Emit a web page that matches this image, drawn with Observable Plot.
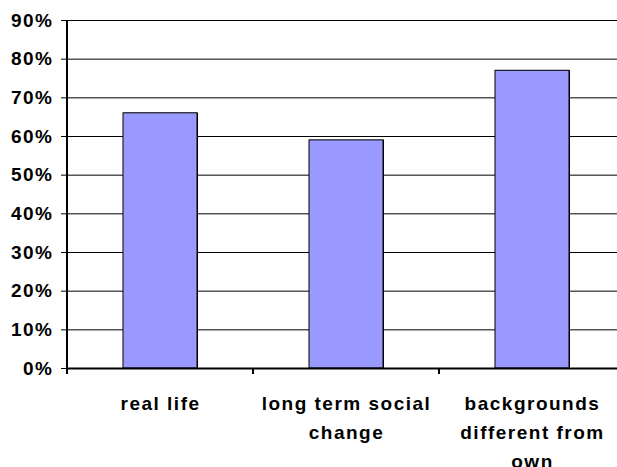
<!DOCTYPE html>
<html>
<head>
<meta charset="utf-8">
<script src="https://cdn.jsdelivr.net/npm/d3@7"></script>
<script src="https://cdn.jsdelivr.net/npm/@observablehq/plot@0.6"></script>
<style>
  html, body { margin: 0; padding: 0; background: #ffffff; }
</style>
</head>
<body>
<div id="chart"></div>
<script>
// Survey categories, their wrapped axis labels and the share (%) for each
const categories = ["real life", "long term social change", "backgrounds different from own"];
const tickLabels = ["real life", "long term social\nchange", "backgrounds\ndifferent from\nown"];
const shares = [66, 59, 77];
const yTicks = [0, 10, 20, 30, 40, 50, 60, 70, 80, 90];

const data = categories.map((category, i) => ({category, share: shares[i]}));

const chart = Plot.plot({
  width: 617,
  height: 467,
  marginTop: 20,
  marginBottom: 99,
  marginLeft: 67,
  marginRight: 0,
  style: {
    background: "#ffffff",
    color: "#000000",
    fontFamily: "'Liberation Sans', Arial, sans-serif",
    fontSize: "19px",
    fontWeight: "bold",
    letterSpacing: "1.5px",
    overflow: "hidden"
  },
  x: {domain: categories, range: [67, 625], paddingInner: 0.6, paddingOuter: 0.3, axis: null},
  y: {domain: [0, 90], axis: null},
  marks: [
    // horizontal gridlines
    Plot.ruleY(yTicks.slice(1), {stroke: "#000000", strokeWidth: 1}),
    // bar shadow on the right edge
    Plot.barY(data, {x: "category", y: "share", fill: "#000000", dx: 1}),
    Plot.barY(data, {x: "category", y: "share", fill: "#9999FF", stroke: "#000000", strokeWidth: 1}),
    // category axis baseline
    Plot.ruleY([0], {stroke: "#000000", strokeWidth: 2}),
    Plot.axisY({
      ticks: yTicks,
      tickSize: 6,
      tickPadding: 8,
      stroke: "#000000",
      label: null,
      tickFormat: d => `${d}%`
    }),
    Plot.axisX({
      tickSize: 0,
      tickPadding: 21,
      lineHeight: 1.53,
      label: null,
      tickFormat: d => tickLabels[categories.indexOf(d)]
    })
  ]
});

// value axis line and tick marks between the category bands
const xs = chart.scale("x");
const ys = chart.scale("y");
const y0 = ys.apply(0);
const yTop = ys.apply(d3.max(yTicks));
const bounds = categories.map(c => xs.apply(c) + xs.bandwidth / 2 - xs.step / 2);
const g = d3.select(chart).append("g").attr("stroke", "#000000");
g.append("line")
  .attr("x1", bounds[0]).attr("x2", bounds[0])
  .attr("y1", yTop).attr("y2", y0 + 6)
  .attr("stroke-width", 2);
g.selectAll("line.sep")
  .data(bounds.slice(1))
  .join("line")
  .attr("class", "sep")
  .attr("x1", d => d).attr("x2", d => d)
  .attr("y1", y0).attr("y2", y0 + 6)
  .attr("stroke-width", 2);

document.getElementById("chart").appendChild(chart);
</script>
</body>
</html>
